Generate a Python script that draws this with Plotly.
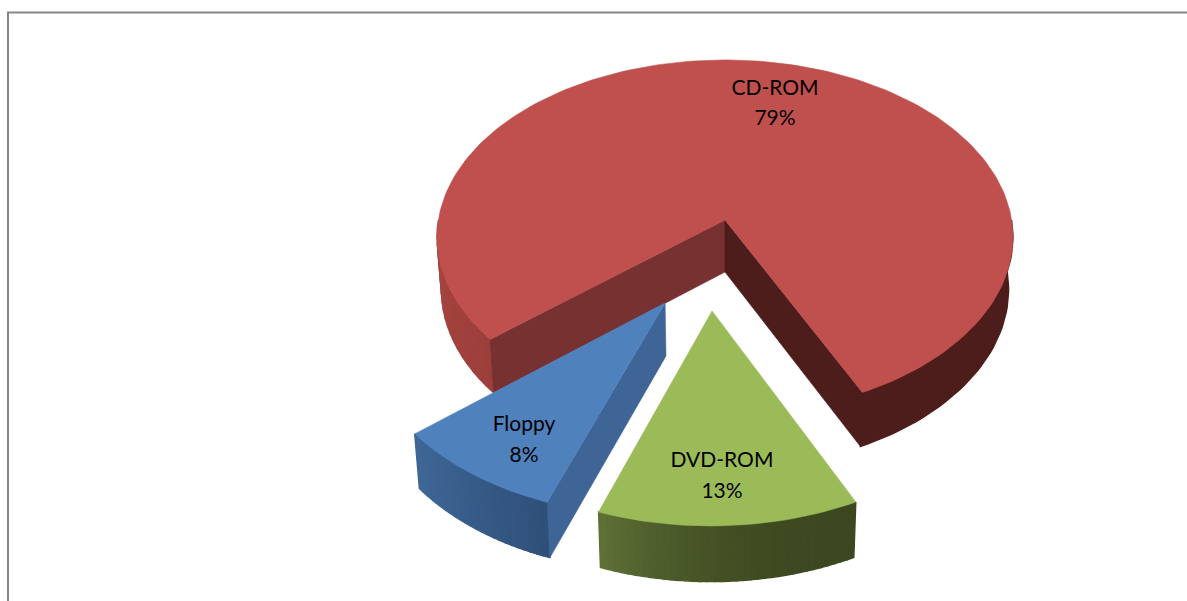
import math
import plotly.graph_objects as go

categories = ["DVD-ROM", "Floppy", "CD-ROM"]
values = [12.7, 8.49, 78.81]
top_colors = ["#9BBB59", "#4F81BD", "#C0504D"]

# projection of the pie plane (perspective tilt)
CX, CY = 725.0, 220.0
B, A, P = 286.6, 175.4, 0.096
START = 64.0
# explode offsets in the pie plane
explode = {"DVD-ROM": (-0.043, 0.494), "Floppy": (-0.200, 0.4526), "CD-ROM": (0.0, 0.0)}
label_pos = {"DVD-ROM": (722, 462, 493), "Floppy": (524, 426, 457), "CD-ROM": (775, 90, 120)}


def proj(u, v):
    d = 1 - P * v
    return CX + B * u / d, CY + A * v / d


def down(pt):
    x, y = pt
    return CX + (x - CX) * 0.985, y + 52 + 0.012 * (y - CY)


def rim(a, off):
    r = math.radians(a)
    return proj(off[0] + math.cos(r), off[1] + math.sin(r))


def lerp_hex(c1, c2, t):
    a = [int(c1[i:i + 2], 16) for i in (1, 3, 5)]
    b = [int(c2[i:i + 2], 16) for i in (1, 3, 5)]
    return "#%02x%02x%02x" % tuple(round(p + (q - p) * t) for p, q in zip(a, b))


fig = go.Figure()


def poly(pts, color, lw=0.6):
    fig.add_trace(go.Scatter(
        x=[p[0] for p in pts] + [pts[0][0]], y=[p[1] for p in pts] + [pts[0][1]],
        mode="lines", fill="toself", fillcolor=color,
        line=dict(color=color, width=lw), hoverinfo="skip", showlegend=False))


def strip(a0, a1, off, c0, c1, n, sub=1, power=1.0):
    for i in range(n):
        s0 = a0 + (a1 - a0) * i / n
        s1 = a0 + (a1 - a0) * (i + 1) / n
        t = ((i + 0.5) / n) ** power
        rimpts = [rim(s0 + (s1 - s0) * k / sub, off) for k in range(sub + 1)]
        poly(rimpts + [down(p) for p in reversed(rimpts)], lerp_hex(c0, c1, t), 1.4)


def wedge(a0, a1, off):
    n = max(8, int(abs(a1 - a0) / 1.5))
    pts = [proj(off[0], off[1])]
    pts += [rim(a0 + (a1 - a0) * i / n, off) for i in range(n + 1)]
    return pts


# angles from values, clockwise on screen
angles = {}
cur = START
for c, v in zip(categories, values):
    angles[c] = (cur, cur + v * 3.6)
    cur += v * 3.6

# CD-ROM (drawn first, furthest back)
a0, a1 = angles["CD-ROM"]
off = explode["CD-ROM"]
apex = proj(*off)
strip(a0, 180, off, "#9C3F3C", "#A8453F", 16)
strip(360, a1, off, "#4C1D1B", "#4C1D1B", 1, sub=40)
pa, pb = rim(a0, off), rim(a1, off)
poly([apex, pa, down(pa), down(apex)], "#773130")
poly([apex, pb, down(pb), down(apex)], "#4C1D1B")
poly(wedge(a0, a1, off), top_colors[2])

# Floppy
a0, a1 = angles["Floppy"]
off = explode["Floppy"]
apex = proj(*off)
strip(a0, a1, off, "#2F5078", "#3F6797", 24)
pa = rim(a0, off)
poly([apex, pa, down(pa), down(apex)], "#3F6597")
poly(wedge(a0, a1, off), top_colors[1])

# DVD-ROM
a0, a1 = angles["DVD-ROM"]
off = explode["DVD-ROM"]
strip(a0, a1, off, "#3C4820", "#5F7136", 36, power=2.4)
poly(wedge(a0, a1, off), top_colors[0])

# labels
xs, ys, txt = [], [], []
for c, v in zip(categories, values):
    lx, y1, y2 = label_pos[c]
    xs += [lx, lx]
    ys += [y1, y2]
    txt += [c, f"{v:.0f}%"]
fig.add_trace(go.Scatter(x=xs, y=ys, text=txt, mode="text", textposition="middle center",
                         textfont=dict(family="Lato", size=21, color="#000000"),
                         hoverinfo="skip", showlegend=False))

# chart frame
fig.add_shape(type="line", x0=8, x1=8, y0=12, y1=601, line=dict(color="#868686", width=2), layer="below")
fig.add_shape(type="line", x0=7, x1=1187, y0=12.5, y1=12.5, line=dict(color="#868686", width=2), layer="below")

fig.update_layout(
    width=1187, height=601, margin=dict(l=0, r=0, t=0, b=0),
    paper_bgcolor="#FFFFFF", plot_bgcolor="#FFFFFF", showlegend=False,
    xaxis=dict(range=[0, 1187], visible=False, fixedrange=True),
    yaxis=dict(range=[601, 0], visible=False, fixedrange=True),
)
fig.write_html("out.html", config=dict(displayModeBar=False),
               post_script="document.body.style.margin='0';document.body.style.overflow='hidden';")
